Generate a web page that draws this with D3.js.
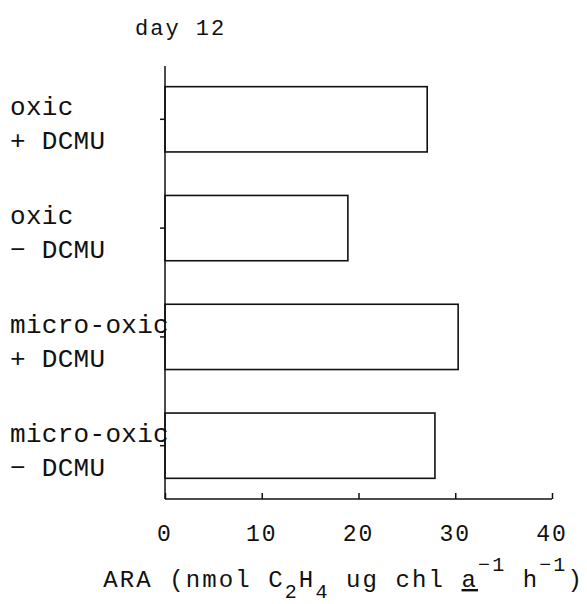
<!DOCTYPE html>
<html>
<head>
<meta charset="utf-8">
<script src="https://cdn.jsdelivr.net/npm/d3@7"></script>
<style>
  html, body { margin: 0; padding: 0; background: #fff; }
  svg { display: block; }
  text { font-family: "Liberation Mono", "Courier New", monospace; fill: #111; }
</style>
</head>
<body>
<svg id="chart" width="587" height="604"></svg>
<script>
// ---- data ----
const categories = ["oxic|+ DCMU", "oxic|\u2212 DCMU", "micro-oxic|+ DCMU", "micro-oxic|\u2212 DCMU"];
const values = [27.1, 18.9, 30.3, 27.9];
const xTicks = [0, 10, 20, 30, 40];
const title = "day 12";

// ---- layout ----
const svg = d3.select("#chart");
const mLeft = 165, mRight = 552, mTop = 66, mBottom = 499;

const x = d3.scaleLinear().domain([0, 40]).range([mLeft, mRight]);
const y = d3.scaleBand().domain(categories).range([mTop, mBottom])
  .paddingInner(0.4).paddingOuter(0.19);

// bars
svg.append("g").selectAll("rect").data(categories).join("rect")
  .attr("x", x(0))
  .attr("y", d => y(d))
  .attr("width", (d, i) => x(values[i]) - x(0))
  .attr("height", y.bandwidth())
  .attr("fill", "#fff")
  .attr("stroke", "#111")
  .attr("stroke-width", 1.6);

// y axis
const yAxis = d3.axisLeft(y).tickSize(5).tickFormat("");
const gy = svg.append("g").attr("transform", `translate(${mLeft},0)`).call(yAxis);
gy.select(".domain").attr("d", `M0,${mTop}V${mBottom}`);
gy.selectAll("line, path").attr("stroke", "#111").attr("stroke-width", 1.5);

// x axis (ticks pointing inward)
const xAxis = d3.axisBottom(x).tickValues(xTicks).tickSize(-6).tickPadding(0).tickFormat("");
const gx = svg.append("g").attr("transform", `translate(0,${mBottom})`).call(xAxis);
gx.select(".domain").attr("d", `M${mLeft},0H${mRight}`);
gx.selectAll("line, path").attr("stroke", "#111").attr("stroke-width", 1.5);

// x tick labels
svg.append("g").selectAll("text").data(xTicks).join("text")
  .attr("x", d => x(d))
  .attr("y", 541)
  .attr("text-anchor", "middle")
  .style("font-size", "23px")
  .style("letter-spacing", "2px")
  .text(d => d);

// category labels
const labG = svg.append("g");
categories.forEach(c => {
  const [l1, l2] = c.split("|");
  const cy = y(c) + y.bandwidth() / 2;
  labG.append("text").attr("x", 10).attr("y", cy - 4)
    .style("font-size", "26px").style("letter-spacing", "0.3px").text(l1);
  labG.append("text").attr("x", 10).attr("y", cy + 30)
    .style("font-size", "26px").style("letter-spacing", "0.3px").text(l2);
});

// title
svg.append("text").attr("x", 135).attr("y", 35)
  .style("font-size", "22px").style("letter-spacing", "2px").text(title);

// x axis title
const t = svg.append("text").attr("x", 584).attr("y", 587)
  .attr("text-anchor", "end")
  .style("font-size", "24px").style("letter-spacing", "2.1px");
t.append("tspan").text("ARA (nmol C");
t.append("tspan").attr("dy", 11).style("font-size", "20px").text("2");
t.append("tspan").attr("dy", -11).text("H");
t.append("tspan").attr("dy", 11).style("font-size", "20px").text("4");
t.append("tspan").attr("dy", -11).text(" ug chl ");
t.append("tspan").style("text-decoration", "underline").text("a");
t.append("tspan").attr("dy", -16).style("font-size", "20px").text("\u22121");
t.append("tspan").attr("dy", 16).text(" h");
t.append("tspan").attr("dy", -16).style("font-size", "20px").text("\u22121");
t.append("tspan").attr("dy", 16).text(")");
</script>
</body>
</html>
